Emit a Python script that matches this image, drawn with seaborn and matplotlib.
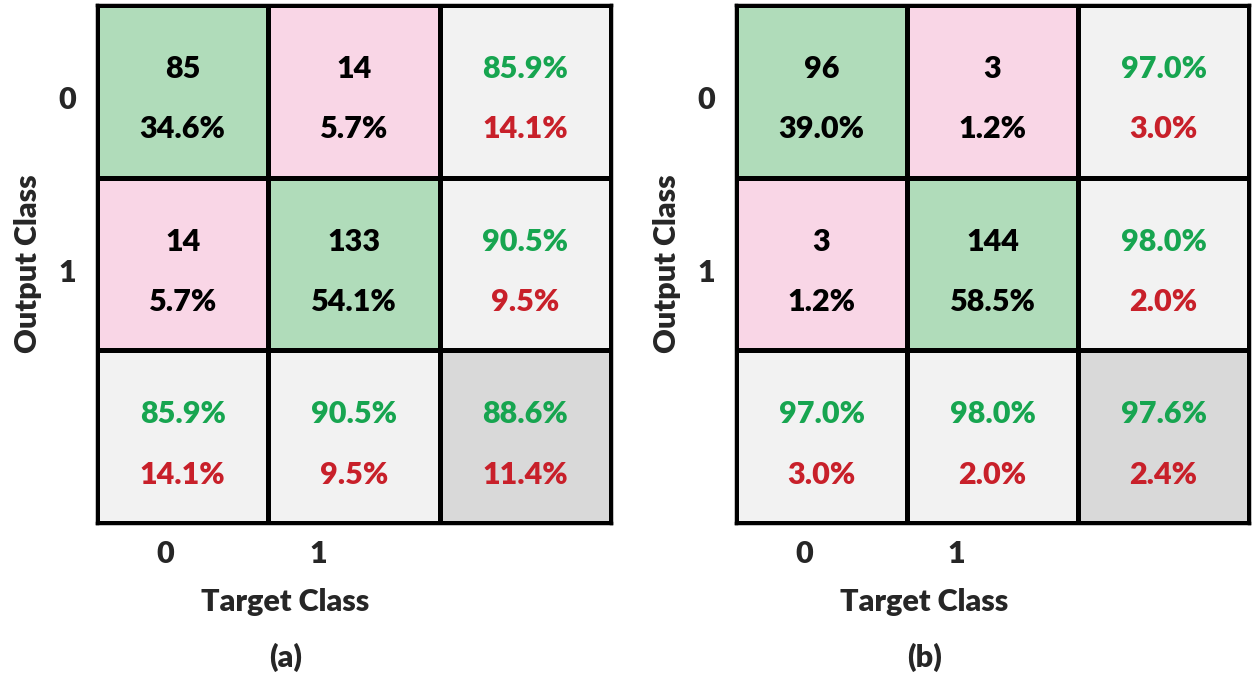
import numpy as np
import pandas as pd
import matplotlib
matplotlib.use('Agg')
import matplotlib.pyplot as plt
from matplotlib.colors import ListedColormap
import seaborn as sns

sns.set_style('white')
plt.rcParams['font.family'] = ['Lato', 'DejaVu Sans']
plt.rcParams['font.weight'] = 'bold'

# panel (a)
counts_a = [[85, 14], [14, 133]]
cell_pct_a = [[34.6, 5.7], [5.7, 54.1]]
row_ok_a = [85.9, 90.5]
row_err_a = [14.1, 9.5]
col_ok_a = [85.9, 90.5]
col_err_a = [14.1, 9.5]
total_a = [88.6, 11.4]

# panel (b)
counts_b = [[96, 3], [3, 144]]
cell_pct_b = [[39.0, 1.2], [1.2, 58.5]]
row_ok_b = [97.0, 98.0]
row_err_b = [3.0, 2.0]
col_ok_b = [97.0, 98.0]
col_err_b = [3.0, 2.0]
total_b = [97.6, 2.4]

class_labels = ['0', '1']
panel_tags = ['(a)', '(b)']

# cell kinds: 0 correct, 1 wrong, 2 summary, 3 overall
kinds = np.array([[0, 1, 2], [1, 0, 2], [2, 2, 3]])
cmap = ListedColormap(['#b0dcba', '#f9d6e6', '#f2f2f2', '#d9d9d9'])

GREEN = '#17a550'
RED = '#c8202a'
FS = 22
W = 'heavy'

fig = plt.figure(figsize=(12.55, 6.78), dpi=100)
axes = [fig.add_axes([0.0773, 0.2286, 0.4096, 0.764]),
        fig.add_axes([0.5865, 0.2286, 0.4088, 0.764])]

panels = [
    (counts_a, cell_pct_a, row_ok_a, row_err_a, col_ok_a, col_err_a, total_a),
    (counts_b, cell_pct_b, row_ok_b, row_err_b, col_ok_b, col_err_b, total_b),
]

for ax, p, tag in zip(axes, panels, panel_tags):
    counts, cpct, rok, rerr, cok, cerr, tot = p
    sns.heatmap(pd.DataFrame(kinds), ax=ax, cmap=cmap, vmin=-0.5, vmax=3.5,
                cbar=False, linewidths=2.5, linecolor='black', square=False)
    for s in ax.spines.values():
        s.set_visible(True)
        s.set_linewidth(2.5)
        s.set_color('black')

    top, bot = 0.37, 0.72
    for i in range(2):
        for j in range(2):
            ax.text(j + 0.5, i + top, str(counts[i][j]), ha='center', va='center',
                    fontsize=FS, fontweight=W, color='black')
            ax.text(j + 0.5, i + bot, f'{cpct[i][j]:.1f}%', ha='center', va='center',
                    fontsize=FS, fontweight=W, color='black')
        # right column (per output class)
        ax.text(2.5, i + top, f'{rok[i]:.1f}%', ha='center', va='center',
                fontsize=FS, fontweight=W, color=GREEN)
        ax.text(2.5, i + bot, f'{rerr[i]:.1f}%', ha='center', va='center',
                fontsize=FS, fontweight=W, color=RED)
        # bottom row (per target class)
        ax.text(i + 0.5, 2 + top, f'{cok[i]:.1f}%', ha='center', va='center',
                fontsize=FS, fontweight=W, color=GREEN)
        ax.text(i + 0.5, 2 + bot, f'{cerr[i]:.1f}%', ha='center', va='center',
                fontsize=FS, fontweight=W, color=RED)
    ax.text(2.5, 2 + top, f'{tot[0]:.1f}%', ha='center', va='center',
            fontsize=FS, fontweight=W, color=GREEN)
    ax.text(2.5, 2 + bot, f'{tot[1]:.1f}%', ha='center', va='center',
            fontsize=FS, fontweight=W, color=RED)

    ax.set_xticks([0.4, 1.29])
    ax.set_xticklabels(class_labels, fontsize=FS, fontweight=W, rotation=0)
    ax.set_yticks([0.55, 1.55])
    ax.set_yticklabels(class_labels, fontsize=FS, fontweight=W, rotation=0)
    ax.tick_params(length=0, pad=12)
    ax.tick_params(axis='y', pad=15)
    ax.set_xlabel('')
    ax.set_ylabel('Output Class', fontsize=FS, fontweight=W, labelpad=12)
    ax.text(1.1, 3.46, 'Target Class', ha='center', va='center',
            fontsize=FS, fontweight=W)
    ax.text(1.1, 3.78, tag, ha='center', va='center',
            fontsize=FS, fontweight=W)

fig.savefig('out.png', dpi=100)
